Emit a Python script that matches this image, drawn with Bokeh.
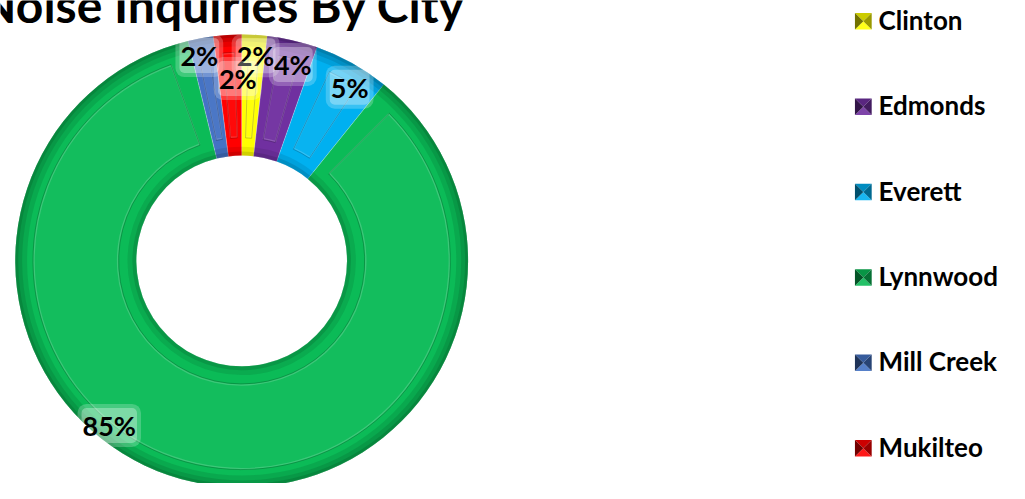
import math
from bokeh.plotting import figure
from bokeh.models import ColumnDataSource, Range1d
from bokeh.core.properties import value
from bokeh.embed import file_html
from bokeh.resources import INLINE

# ---------------- data ----------------
title_text = "Noise Inquiries By City"
cities = ["Clinton", "Edmonds", "Everett", "Lynnwood", "Mill Creek", "Mukilteo"]
shares = [1.8, 3.6, 5.4, 85.4, 1.8, 2.0]          # percent of inquiries
colors = ["#FFFF00", "#7030A0", "#00B0F0", "#0BBB57", "#4472C4", "#FF0000"]

# ---------------- style / layout ----------------
FONT = value("Lato")
CX, CY = 245, 230            # donut centre (data units ~ reference pixels)
R_IN, R_OUT = 107, 230
label_radius = [211, 208, 209, 218, 215, 187]
label_shift_deg = [0.6, 1.5, 2.5, 25.5, -1.1, 2.4]


def shade(hex_color, f):
    h = hex_color.lstrip("#")
    r, g, b = (int(h[i:i + 2], 16) for i in (0, 2, 4))
    if f <= 1:
        r, g, b = (int(c * f) for c in (r, g, b))
    else:
        t = f - 1
        r, g, b = (int(c + (255 - c) * t) for c in (r, g, b))
    return "#%02x%02x%02x" % (r, g, b)


total = sum(shares)
fracs = [s / total for s in shares]
cum = [0.0]
for f in fracs:
    cum.append(cum[-1] + f)
start = [math.pi / 2 - 2 * math.pi * cum[i] for i in range(len(fracs))]
end = [math.pi / 2 - 2 * math.pi * cum[i + 1] for i in range(len(fracs))]
dark = [shade(c, 0.55) for c in colors]
light = [shade(c, 1.35) for c in colors]
spans = [s - e for s, e in zip(start, end)]
inset = [min(0.28 * sp, 18 / 168) for sp in spans]

src = ColumnDataSource(dict(
    city=cities, share=shares, color=colors, dark=dark, light=light,
    start=start, end=end,
    istart=[s - d for s, d in zip(start, inset)],
    iend=[e + d for e, d in zip(end, inset)],
))

p = figure(width=1009, height=483, x_range=Range1d(0, 1025), y_range=Range1d(0, 499),
           output_backend="svg", toolbar_location=None, min_border=0,
           x_axis_type=None, y_axis_type=None)
p.grid.visible = False
p.outline_line_color = None
p.background_fill_color = "white"

# base slices
p.annular_wedge(x=CX, y=CY, inner_radius=R_IN, outer_radius=R_OUT,
                start_angle="start", end_angle="end", direction="clock",
                fill_color="color", line_color="white", line_alpha=0.35,
                line_width=0.6, source=src)
# outer rim shading (bevel)
for ri, a in [(R_OUT - 12, 0.2), (R_OUT - 7, 0.25), (R_OUT - 3, 0.35)]:
    p.annular_wedge(x=CX, y=CY, inner_radius=ri, outer_radius=R_OUT,
                    start_angle="start", end_angle="end", direction="clock",
                    fill_color="dark", fill_alpha=a, line_color=None, source=src)
# inner rim shading
for ro, a in [(R_IN + 9, 0.18), (R_IN + 4, 0.28)]:
    p.annular_wedge(x=CX, y=CY, inner_radius=R_IN, outer_radius=ro,
                    start_angle="start", end_angle="end", direction="clock",
                    fill_color="dark", fill_alpha=a, line_color=None, source=src)
# inset frame: highlight + shadow line
p.annular_wedge(x=CX, y=CY, inner_radius=R_IN + 19, outer_radius=R_OUT - 19,
                start_angle="istart", end_angle="iend", direction="clock",
                fill_color="light", fill_alpha=0.10, line_color="light",
                line_alpha=0.55, line_width=1.5, source=src)
p.annular_wedge(x=CX, y=CY, inner_radius=R_IN + 18, outer_radius=R_OUT - 18,
                start_angle="istart", end_angle="iend", direction="clock",
                fill_color=None, line_color="dark", line_alpha=0.45,
                line_width=1, source=src)

# percentage labels
lx, ly, ltxt = [], [], []
for i in range(len(cities)):
    mid = (start[i] + end[i]) / 2 - math.radians(label_shift_deg[i])
    lx.append(CX + label_radius[i] * math.cos(mid))
    ly.append(CY + label_radius[i] * math.sin(mid) + 1.5)
    ltxt.append(f"{round(shares[i] / total * 100)}%")
lsrc = ColumnDataSource(dict(x=lx, y=ly, t=ltxt))
p.text(x="x", y="y", text="t", source=lsrc, text_font=FONT, text_font_style="bold",
       text_font_size="27px", text_align="center", text_baseline="middle",
       text_alpha=0, background_fill_color="white", background_fill_alpha=0.22,
       padding=5, border_radius=9)
p.text(x="x", y="y", text="t", source=lsrc, text_font=FONT, text_font_style="bold",
       text_font_size="27px", text_color="black", text_align="center",
       text_baseline="middle", background_fill_color="white",
       background_fill_alpha=0.3, padding=1, border_radius=5)

# title
p.text(x=[472], y=[495], text=[title_text], text_font=FONT, text_font_style="bold",
       text_font_size="48px", text_color="black", text_align="right",
       text_baseline="middle")

# legend (manual, pyramid-shaded swatches)
LEG_X, LEG_Y0, LEG_DY, SW = 876.5, 477.5, 88.2, 8.5
xs, ys, fc = [], [], []
for i, c in enumerate(colors):
    cy = LEG_Y0 - LEG_DY * i
    x0, x1, y0, y1 = LEG_X - SW, LEG_X + SW, cy - SW, cy + SW
    tris = [([x0, x1, LEG_X], [y1, y1, cy], shade(c, 0.8)),   # top
            ([x0, x1, LEG_X], [y0, y0, cy], shade(c, 1.1)),   # bottom
            ([x0, x0, LEG_X], [y0, y1, cy], shade(c, 0.45)),  # left
            ([x1, x1, LEG_X], [y0, y1, cy], shade(c, 0.6))]   # right
    for tx, ty, col in tris:
        xs.append(tx); ys.append(ty); fc.append(col)
p.patches(xs=xs, ys=ys, fill_color=fc, line_color=None)

leg_src = ColumnDataSource(dict(x=[892] * len(cities),
                                y=[LEG_Y0 + 1.5 - LEG_DY * i for i in range(len(cities))],
                                t=cities))
p.text(x="x", y="y", text="t", source=leg_src, text_font=FONT, text_font_style="bold",
       text_font_size="26px", text_color="black", text_align="left",
       text_baseline="middle")

open("out.html", "w").write(file_html(p, INLINE))
